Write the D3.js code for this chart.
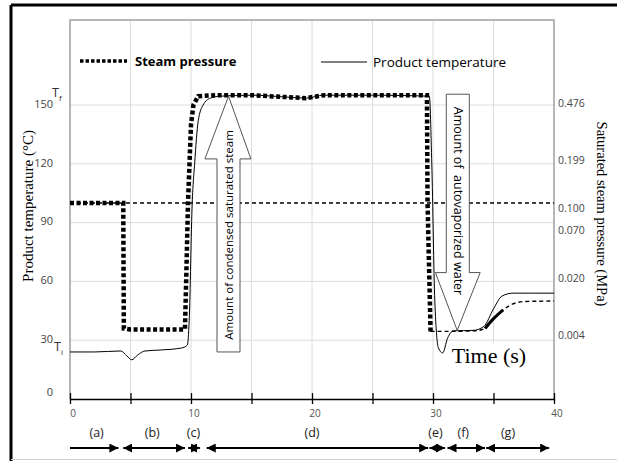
<!DOCTYPE html>
<html>
<head>
<meta charset="utf-8">
<script src="https://cdn.jsdelivr.net/npm/d3@7"></script>
<style>
  body { margin: 0; background: #fff; }
  svg { display: block; }
</style>
</head>
<body>
<div id="root"></div>
<script>
// ---- data ----
const timeTicks = [0, 10, 20, 30, 40];
const tempTicks = [0, 30, 60, 90, 120, 150];
// saturated pressure labels on the right, tied to the temperature they sit at
const pressTemps = [150, 120, 100, 90, 60, 30];
const pressLabels = ["0.476", "0.199", "0.100", "0.070", "0.020", "0.004"];

// steam pressure (as equivalent temperature, °C) - thick dotted part
const steamTime = [0, 4.4, 4.45, 5.0, 9.5, 9.6, 9.75, 10.0, 10.2, 10.6, 12, 15, 18, 19.5, 21, 25, 29.5, 29.55, 29.8];
const steamVal  = [100, 100, 36, 35.5, 35.5, 60, 100, 140, 150, 154.5, 155, 155, 154, 153.5, 155, 155, 155, 100, 34];
// steam pressure after release - thin dashed part
const steamTime2 = [29.8, 31, 33.5, 34.3, 35, 35.8, 36.6, 37.5, 40];
const steamVal2  = [34.5, 34.5, 34.8, 36, 41, 45.5, 48.5, 49.7, 50];

// product temperature (°C)
const prodTime = [0, 2, 4.2, 4.7, 5.1, 5.6, 6.2, 7.5, 9.2, 9.7, 9.85, 10.1, 10.3, 10.6, 11, 11.6, 12.4, 15, 18, 19.5, 21, 25, 29.7, 29.9, 30.15, 30.45, 30.8, 31.2, 31.7, 33.3, 34.2, 35.0, 35.7, 36.6, 38, 40];
const prodVal  = [24, 24, 24.5, 22, 20, 22.5, 24.5, 25, 26, 27.5, 40, 100, 120, 142, 150, 153.5, 154.5, 155, 154, 153.5, 155, 155, 154.5, 120, 50, 26, 23.5, 31, 34.8, 35, 37, 46, 52.5, 54, 54, 54];

const refTemp = 100; // 0.100 MPa line

const phaseNames   = ["(a)", "(b)", "(c)", "(d)", "(e)", "(f)", "(g)"];
const phaseStart   = [0, 4.4, 9.75, 11.3, 29.7, 31.2, 34.4];
const phaseEnd     = [4.0, 9.5, 10.75, 29.6, 31.0, 34.3, 39.6];
const phaseLabelAt = [2.2, 6.8, 10.2, 20, 30.2, 32.5, 36.2];

// annotation arrows, in data units
const condArrow = {shaft: [12.15, 14.05], head: [11.15, 14.95], tip: [13.1, 154.5], base: 24, neck: 122.5,
                   text: "Amount of condensed saturated steam"};
const evapArrow = {shaft: [31.1, 33.0], head: [30.2, 33.9], tip: [32.0, 35], base: 155.5, neck: 64.5,
                   text: "Amount of  autovaporized water"};

// ---- layout ----
const W = 617, H = 461;
const plot = {left: 70, right: 554, top: 20, bottom: 399};

const svg = d3.select('#root').append('svg')
  .attr('width', W).attr('height', H);

const x = d3.scaleLinear().domain([0, 40]).range([plot.left, plot.right]);
const y = d3.scaleLinear().domain([0, 150]).range([plot.bottom, 105]);

// outer frame
svg.append('line').attr('x1', 11).attr('x2', W).attr('y1', 5).attr('y2', 5)
   .attr('stroke', '#000').attr('stroke-width', 3);
svg.append('line').attr('x1', 11).attr('x2', 11).attr('y1', 5).attr('y2', H)
   .attr('stroke', '#000').attr('stroke-width', 3);
svg.append('line').attr('x1', 11).attr('x2', W).attr('y1', 459.5).attr('y2', 459.5)
   .attr('stroke', '#d0d0d0').attr('stroke-width', 1);

// gridlines
const grid = svg.append('g').attr('class', 'grid');
grid.selectAll('.vg').data(d3.range(5, 40, 5)).enter().append('line')
  .attr('x1', d => x(d)).attr('x2', d => x(d))
  .attr('y1', plot.top).attr('y2', plot.bottom)
  .attr('stroke', '#dcdcdc').attr('stroke-width', 1);
grid.selectAll('.hg').data(tempTicks.filter(d => d > 0)).enter().append('line')
  .attr('x1', plot.left).attr('x2', plot.right)
  .attr('y1', d => y(d)).attr('y2', d => y(d))
  .attr('stroke', '#dcdcdc').attr('stroke-width', 1);

// plot border (top, right, left)
svg.append('path')
  .attr('d', `M${plot.left},${plot.bottom}V${plot.top}H${plot.right}V${plot.bottom}`)
  .attr('fill', 'none').attr('stroke', '#a0a0a0').attr('stroke-width', 1.5);

// "Time (s)" box
svg.append('rect').attr('x', x(30) + 2).attr('y', 343).attr('width', plot.right - x(30) - 3).attr('height', 53)
  .attr('fill', '#fff');
svg.append('text').attr('x', 489).attr('y', 363)
  .attr('text-anchor', 'middle')
  .style('font-family', '"Liberation Serif", serif').style('font-size', '22px')
  .text('Time  (s)');

// x axis
const xAxis = svg.append('g')
  .attr('transform', `translate(0,${plot.bottom})`)
  .call(d3.axisBottom(x).tickValues(d3.range(0, 41, 5)).tickSize(0).tickFormat(''));
xAxis.select('.domain').attr('stroke', '#000').attr('stroke-width', 1.5);
xAxis.selectAll('.tick line').remove();
xAxis.selectAll('.tick').append('line')
  .attr('y1', -6).attr('y2', 5).attr('stroke', '#000').attr('stroke-width', 1.3);
svg.selectAll('.xlab').data(timeTicks).enter().append('text')
  .attr('x', d => x(d) + 3).attr('y', 417)
  .attr('text-anchor', 'middle')
  .style('font-family', '"Open Sans", sans-serif').style('font-size', '10px').attr('fill', '#555')
  .text(d => d);

// left axis labels
const yAxis = svg.append('g')
  .attr('transform', `translate(${plot.left},0)`)
  .call(d3.axisLeft(y).tickValues(tempTicks).tickSize(0).tickPadding(17));
yAxis.select('.domain').remove();
yAxis.selectAll('text')
  .style('font-family', '"Open Sans", sans-serif').style('font-size', '11px').attr('fill', '#444')
  .attr('dy', d => d === 0 ? '-0.3em' : '0.2em');

// Tf and Ti
function tLabel(xp, yp, sub) {
  const t = svg.append('text').attr('x', xp).attr('y', yp)
    .style('font-family', '"Open Sans", sans-serif').style('font-size', '12.5px').attr('fill', '#333');
  t.append('tspan').text('T');
  t.append('tspan').attr('dy', 4).style('font-size', '8px').text(sub);
}
tLabel(52, 97, 'f');
tLabel(54, 351, 'i');

// right axis labels
const pressOffset = {150: -2, 120: -4, 100: 5, 90: 7, 60: -3, 30: -5};
svg.selectAll('.plab').data(pressTemps).enter().append('text')
  .attr('x', plot.right + 4).attr('y', (d) => y(d) + pressOffset[d] + 4)
  .style('font-family', '"Open Sans", sans-serif').style('font-size', '10.5px').attr('fill', '#444')
  .text((d, i) => pressLabels[i]);

// axis titles
svg.append('text')
  .attr('transform', 'translate(33,206) rotate(-90)')
  .attr('text-anchor', 'middle')
  .style('font-family', '"Liberation Serif", serif').style('font-size', '15px')
  .text('Product temperature (°C)');
svg.append('text')
  .attr('transform', 'translate(597,214) rotate(90)')
  .attr('text-anchor', 'middle')
  .style('font-family', '"Liberation Serif", serif').style('font-size', '14.5px')
  .text('Saturated steam pressure (MPa)');

// reference line at 0.100 MPa / 100 °C
svg.append('line')
  .attr('x1', x(0)).attr('x2', x(40)).attr('y1', y(refTemp)).attr('y2', y(refTemp))
  .attr('stroke', '#000').attr('stroke-width', 1.3).attr('stroke-dasharray', '4,3');

// series
const line = d3.line().x(d => x(d[0])).y(d => y(d[1]));
const smooth = d3.line().x(d => x(d[0])).y(d => y(d[1])).curve(d3.curveMonotoneX);

svg.append('path')
  .datum(prodTime.map((t, i) => [t, prodVal[i]]))
  .attr('d', smooth).attr('fill', 'none').attr('stroke', '#000').attr('stroke-width', 1);

svg.append('path')
  .datum(steamTime2.map((t, i) => [t, steamVal2[i]]))
  .attr('d', smooth).attr('fill', 'none').attr('stroke', '#000').attr('stroke-width', 1.4)
  .attr('stroke-dasharray', '4,3');
// heavier overlap where both curves rise together
svg.append('path')
  .datum(steamTime2.map((t, i) => [t, steamVal2[i]]).filter(d => d[0] >= 34.3 && d[0] <= 35.8))
  .attr('d', smooth).attr('fill', 'none').attr('stroke', '#000').attr('stroke-width', 3);

svg.append('path')
  .datum(steamTime.map((t, i) => [t, steamVal[i]]))
  .attr('d', line).attr('fill', 'none').attr('stroke', '#000').attr('stroke-width', 4.5)
  .attr('stroke-dasharray', '4,2.5');

// annotation arrows
function bigArrow(a, up) {
  const p = d3.path();
  p.moveTo(x(a.shaft[0]), y(a.base));
  p.lineTo(x(a.shaft[0]), y(a.neck));
  p.lineTo(x(a.head[0]), y(a.neck));
  p.lineTo(x(a.tip[0]), y(a.tip[1]));
  p.lineTo(x(a.head[1]), y(a.neck));
  p.lineTo(x(a.shaft[1]), y(a.neck));
  p.lineTo(x(a.shaft[1]), y(a.base));
  p.closePath();
  svg.append('path').attr('d', p.toString())
    .attr('fill', '#fff').attr('stroke', '#555').attr('stroke-width', 1);
  const cx = x((a.shaft[0] + a.shaft[1]) / 2);
  const cy = up ? 235 : 201;
  svg.append('text')
    .attr('transform', `translate(${cx + (up ? 4 : -4)},${cy}) rotate(${up ? -90 : 90})`)
    .attr('text-anchor', 'middle')
    .style('font-family', '"Open Sans", sans-serif').style('font-size', up ? '11.5px' : '12.5px')
    .style('white-space', 'pre')
    .text(a.text);
}
bigArrow(condArrow, true);
bigArrow(evapArrow, false);

// legend
const lg = svg.append('g');
lg.append('line').attr('x1', 80).attr('x2', 127).attr('y1', 61).attr('y2', 61)
  .attr('stroke', '#000').attr('stroke-width', 3.5).attr('stroke-dasharray', '3.5,2');
lg.append('text').attr('x', 135).attr('y', 66)
  .style('font-family', '"Open Sans", sans-serif').style('font-size', '13px').style('font-weight', 'bold')
  .text('Steam pressure');
lg.append('line').attr('x1', 321).attr('x2', 367).attr('y1', 62).attr('y2', 62)
  .attr('stroke', '#000').attr('stroke-width', 1);
lg.append('text').attr('x', 373).attr('y', 67)
  .style('font-family', '"Open Sans", sans-serif').style('font-size', '13.5px')
  .text('Product temperature');

// phase arrows under the axis
const defs = svg.append('defs');
defs.append('marker').attr('id', 'head').attr('viewBox', '0 -5 10 10')
  .attr('refX', 10).attr('refY', 0).attr('markerWidth', 5).attr('markerHeight', 5)
  .attr('markerUnits', 'strokeWidth').attr('orient', 'auto-start-reverse')
  .append('path').attr('d', 'M0,-5L10,0L0,5Z').attr('fill', '#000');

const phases = phaseNames.map((n, i) => ({n, s: phaseStart[i], e: phaseEnd[i], at: phaseLabelAt[i], i}));
svg.selectAll('.ph').data(phases).enter().append('line')
  .attr('x1', d => x(d.s)).attr('x2', d => x(d.e))
  .attr('y1', 448).attr('y2', 448)
  .attr('stroke', '#000').attr('stroke-width', 1.8)
  .attr('marker-end', 'url(#head)')
  .attr('marker-start', d => d.i === 0 ? null : 'url(#head)');
svg.selectAll('.phl').data(phases).enter().append('text')
  .attr('x', d => x(d.at)).attr('y', 437)
  .attr('text-anchor', 'middle')
  .style('font-family', '"Open Sans", sans-serif').style('font-size', '12.5px').attr('fill', '#222')
  .text(d => d.n);
</script>
</body>
</html>
